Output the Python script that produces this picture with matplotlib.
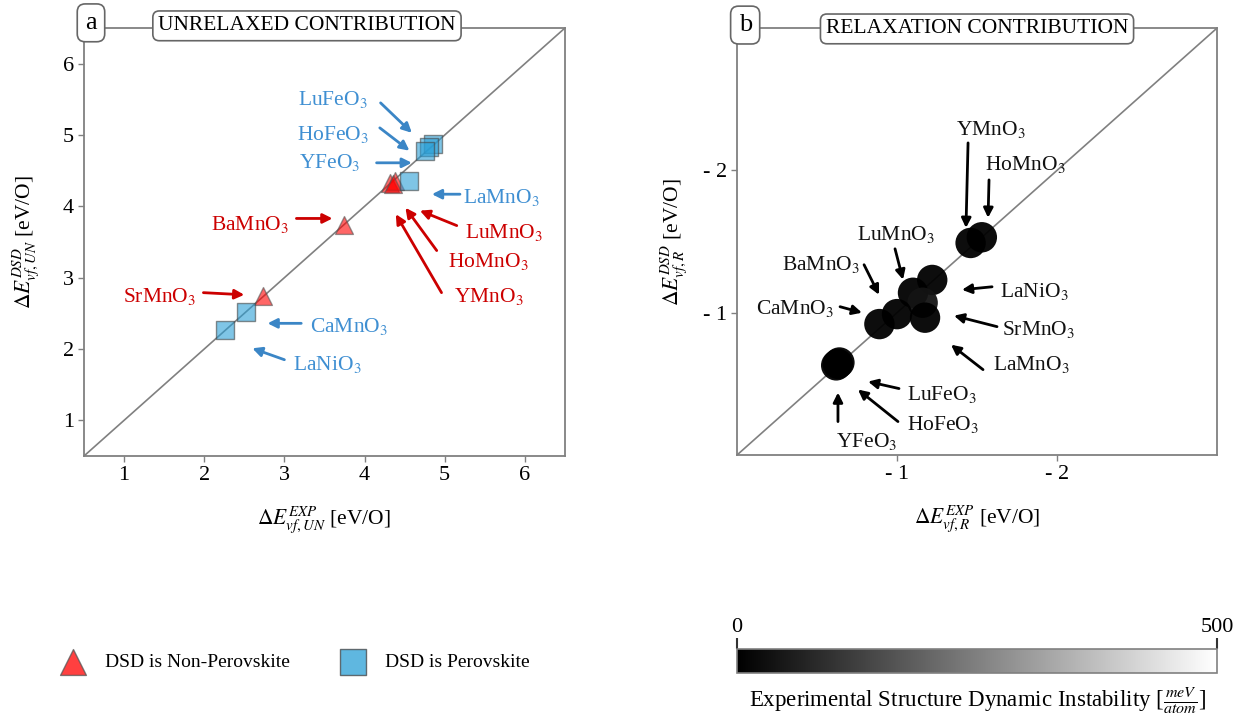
import matplotlib
matplotlib.use("Agg")
import matplotlib.pyplot as plt
import numpy as np

plt.rcParams['font.family'] = ['Liberation Serif', 'DejaVu Serif']
plt.rcParams['mathtext.fontset'] = 'stix'

# ---------------- data ----------------
# Panel a: unrelaxed contribution [eV/O]
tri_names = ['LuMnO3', 'HoMnO3', 'YMnO3', 'BaMnO3', 'SrMnO3']
tri_exp = [4.32, 4.38, 4.35, 3.74, 2.73]
tri_dsd = [4.33, 4.36, 4.32, 3.74, 2.75]

sq_names = ['LuFeO3', 'HoFeO3', 'YFeO3', 'LaMnO3', 'CaMnO3', 'LaNiO3']
sq_exp = [4.85, 4.80, 4.75, 4.55, 2.52, 2.26]
sq_dsd = [4.88, 4.83, 4.78, 4.35, 2.52, 2.26]

# Panel b: relaxation contribution [eV/O]
b_names = ['YMnO3', 'HoMnO3', 'LaNiO3', 'LuMnO3', 'SrMnO3', 'LaMnO3',
           'BaMnO3', 'CaMnO3', 'LuFeO3', 'HoFeO3', 'YFeO3']
b_exp = [-1.46, -1.53, -1.22, -1.10, -1.16, -1.175, -1.00, -0.89, -0.63, -0.64, -0.62]
b_dsd = [-1.49, -1.53, -1.23, -1.14, -1.07, -0.965, -0.99, -0.92, -0.64, -0.65, -0.63]
b_instab = [0, 0, 0, 0, 40, 0, 0, 0, 0, 0, 0]  # meV/atom

a_ticks = [1, 2, 3, 4, 5, 6]
b_ticks = [-1, -2]
b_ticklabels = ['- 1', '- 2']
cbar_ticks = [0, 500]

# ---------------- layout (label / arrow placement) ----------------
# name: (text_x, text_y, arrow_start_x, arrow_start_y, arrow_end_x, arrow_end_y)
a_annot = {
    'LuFeO3': (3.61, 5.50, 4.20, 5.45, 4.59, 5.03),
    'HoFeO3': (3.61, 5.01, 4.19, 5.10, 4.56, 4.78),
    'YFeO3':  (3.56, 4.62, 4.15, 4.61, 4.59, 4.61),
    'LaMnO3': (5.71, 4.12, 5.19, 4.17, 4.84, 4.17),
    'LuMnO3': (5.74, 3.64, 5.15, 3.73, 4.69, 3.94),
    'HoMnO3': (5.54, 3.23, 4.90, 3.38, 4.51, 3.98),
    'YMnO3':  (5.55, 2.73, 4.96, 2.79, 4.39, 3.89),
    'BaMnO3': (2.575, 3.75, 3.15, 3.83, 3.60, 3.83),
    'SrMnO3': (1.44, 2.74, 1.99, 2.79, 2.50, 2.76),
    'CaMnO3': (3.81, 2.31, 3.21, 2.36, 2.79, 2.36),
    'LaNiO3': (3.53, 1.79, 3.00, 1.85, 2.60, 2.01),
}
b_annot = {
    'YMnO3':  (-1.5875, -2.285, -1.444, -2.193, -1.431, -1.596),
    'HoMnO3': (-1.80, -2.04, -1.575, -1.933, -1.569, -1.667),
    'LuMnO3': (-0.994, -1.548, -0.9875, -1.449, -1.0375, -1.232),
    'BaMnO3': (-0.525, -1.338, -0.794, -1.337, -0.8875, -1.126),
    'CaMnO3': (-0.3625, -1.029, -0.644, -1.042, -0.781, -1.0),
    'LaNiO3': (-1.856, -1.148, -1.594, -1.182, -1.406, -1.161),
    'SrMnO3': (-1.8875, -0.882, -1.625, -0.902, -1.356, -0.979),
    'LaMnO3': (-1.8375, -0.636, -1.5375, -0.60, -1.3375, -0.775),
    'LuFeO3': (-1.281, -0.426, -1.0125, -0.467, -0.819, -0.516),
    'HoFeO3': (-1.2875, -0.215, -1.006, -0.235, -0.756, -0.46),
    'YFeO3':  (-0.8125, -0.096, -0.631, -0.235, -0.631, -0.439),
}

RED_TXT = '#cc0000'
BLUE_TXT = '#3f8fd2'
RED_ARR = '#cc0000'
BLUE_ARR = '#3b86c6'
SPINE = '#808080'
FS = 15.5


def fmt(name):
    return name[:-1] + '$_{' + name[-1] + '}$'


fig = plt.figure(figsize=(12.42, 7.21), dpi=100)
ax1 = fig.add_axes([0.0676, 0.3675, 0.3873, 0.5937])
ax2 = fig.add_axes([0.5934, 0.3689, 0.3865, 0.5922])

for ax in (ax1, ax2):
    for s in ax.spines.values():
        s.set_color(SPINE)
        s.set_linewidth(1.3)
    ax.tick_params(direction='out', length=4, width=1, color=SPINE,
                   labelsize=16, pad=3)

# ---------------- panel a ----------------
ax1.set_xlim(0.5, 6.5)
ax1.set_ylim(0.5, 6.5)
ax1.plot([0.5, 6.5], [0.5, 6.5], color='#808080', lw=1.2, zorder=1)
h_tri = ax1.scatter(tri_exp, tri_dsd, marker='^', s=165, facecolor='red',
                    alpha=0.6, edgecolor='#555555', linewidth=1, zorder=3,
                    label='DSD is Non-Perovskite')
h_sq = ax1.scatter(sq_exp, sq_dsd, marker='s', s=175, facecolor='#2a9fd6',
                   alpha=0.6, edgecolor='#444444', linewidth=1, zorder=3,
                   label='DSD is Perovskite')
ax1.set_xticks(a_ticks)
ax1.set_yticks(a_ticks)
ax1.set_xlabel(r'$\Delta E^{EXP}_{vf,UN}$ [eV/O]', fontsize=FS, labelpad=14)
ax1.set_ylabel(r'$\Delta E^{DSD}_{vf,UN}$ [eV/O]', fontsize=FS, labelpad=16)

for name in a_annot:
    tx, ty, sx, sy, ex, ey = a_annot[name]
    red = name in tri_names
    ax1.text(tx, ty, fmt(name), fontsize=FS, ha='center', va='center',
             color=RED_TXT if red else BLUE_TXT)
    ax1.annotate('', xy=(ex, ey), xytext=(sx, sy),
                 arrowprops=dict(arrowstyle='-|>', color=RED_ARR if red else BLUE_ARR,
                                 lw=2, mutation_scale=14, shrinkA=0, shrinkB=0))

box = dict(boxstyle='round,pad=0.25,rounding_size=0.3', fc='white', ec='#666666', lw=1.2)
ax1.text(0.0146, 1.012, 'a', transform=ax1.transAxes, ha='center', va='center',
         fontsize=19, bbox=dict(boxstyle='round,pad=0.3,rounding_size=0.3',
                                fc='white', ec='#666666', lw=1.2), zorder=10, clip_on=False)
ax1.text(0.4636, 1.005, 'UNRELAXED CONTRIBUTION', transform=ax1.transAxes,
         ha='center', va='center', fontsize=FS, bbox=box, zorder=10, clip_on=False)

# legend
leg = ax1.legend(handles=[h_tri, h_sq], loc='center left',
                 bbox_to_anchor=(-0.085, -0.481), ncol=2, frameon=False,
                 fontsize=14, markerscale=1.45, columnspacing=2.6,
                 handlelength=1.3, handletextpad=1.0)
for lh in leg.legend_handles:
    lh.set_alpha(0.75)

# ---------------- panel b ----------------
ax2.set_xlim(0, -3)
ax2.set_ylim(0, -3)
ax2.plot([0, -3], [0, -3], color='#808080', lw=1.2, zorder=1)
sc = ax2.scatter(b_exp, b_dsd, c=b_instab, cmap='gray', vmin=0, vmax=500,
                 s=480, edgecolor='none', alpha=0.95, zorder=3)
ax2.set_xticks(b_ticks)
ax2.set_xticklabels(b_ticklabels)
ax2.set_yticks(b_ticks)
ax2.set_yticklabels(b_ticklabels)
ax2.set_xlabel(r'$\Delta E^{EXP}_{vf,R}$ [eV/O]', fontsize=FS, labelpad=14)
ax2.set_ylabel(r'$\Delta E^{DSD}_{vf,R}$ [eV/O]', fontsize=FS, labelpad=10)

for name in b_annot:
    tx, ty, sx, sy, ex, ey = b_annot[name]
    ax2.text(tx, ty, fmt(name), fontsize=FS, ha='center', va='center', color='#111111')
    ax2.annotate('', xy=(ex, ey), xytext=(sx, sy),
                 arrowprops=dict(arrowstyle='-|>', color='black', lw=2,
                                 mutation_scale=14, shrinkA=0, shrinkB=0))

ax2.text(0.017, 1.007, 'b', transform=ax2.transAxes, ha='center', va='center',
         fontsize=19, bbox=dict(boxstyle='round,pad=0.3,rounding_size=0.3',
                                fc='white', ec='#666666', lw=1.2), zorder=10, clip_on=False)
ax2.text(0.5, 0.998, 'RELAXATION CONTRIBUTION', transform=ax2.transAxes,
         ha='center', va='center', fontsize=FS, bbox=box, zorder=10, clip_on=False)

# ---------------- colorbar ----------------
cax = fig.add_axes([737 / 1242, 1 - 673 / 721, 480 / 1242, 24 / 721])
cb = fig.colorbar(sc, cax=cax, orientation='horizontal', ticks=cbar_ticks)
cb.solids.set_alpha(1)
cb.outline.set_edgecolor(SPINE)
cb.outline.set_linewidth(1.2)
cax.xaxis.set_ticks_position('top')
cax.xaxis.set_label_position('bottom')
cax.tick_params(axis='x', direction='out', length=8, width=1.5, color='#333333',
                labelsize=16, pad=1)
cax.set_xlabel(r'Experimental Structure Dynamic Instability [$\frac{meV}{atom}$]',
               fontsize=16.5, labelpad=9)

fig.savefig('out.png', dpi=100)
